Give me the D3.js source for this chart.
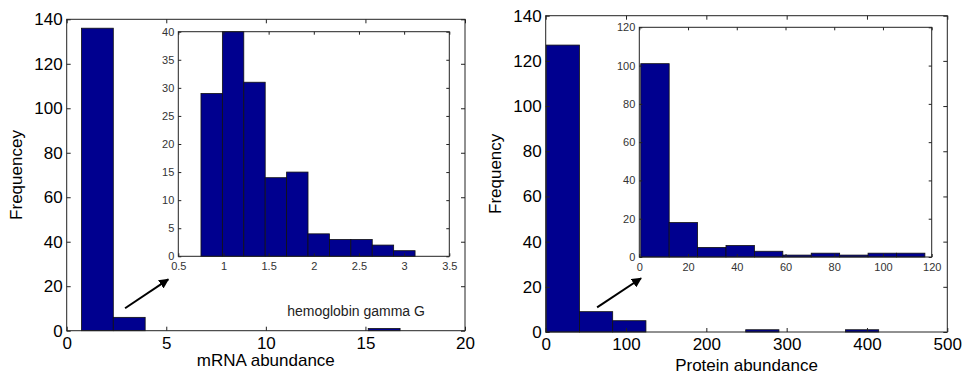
<!DOCTYPE html>
<html>
<head>
<meta charset="utf-8">
<script src="https://cdn.jsdelivr.net/npm/d3@7"></script>
<style>
  html, body { margin: 0; padding: 0; background: #fff; }
  svg { display: block; font-family: "Liberation Sans", Arial, Helvetica, sans-serif; }
</style>
</head>
<body>
<svg id="chart" width="968" height="379"></svg>
<script>
// ---- mRNA abundance histogram (10 bins) ----
const mrnaBinStart = 0.74;
const mrnaBinWidth = 1.6;
const mrnaCounts = [136, 6, 0, 0, 0, 0, 0, 0, 0, 1];
const mrnaXTicks = [0, 5, 10, 15, 20];
const mrnaYTicks = [0, 20, 40, 60, 80, 100, 120, 140];

// zoomed-in view of the bulk of mRNA values (outlier excluded)
const mrnaInsetBinStart = 0.751;
const mrnaInsetBinWidth = 0.237;
const mrnaInsetCounts = [29, 40, 31, 14, 15, 4, 3, 3, 2, 1];
const mrnaInsetXTicks = [0.5, 1, 1.5, 2, 2.5, 3, 3.5];
const mrnaInsetYTicks = [0, 5, 10, 15, 20, 25, 30, 35, 40];

// ---- protein abundance histogram (10 bins) ----
const protBinStart = 0.6;
const protBinWidth = 41.4;
const protCounts = [127, 9, 5, 0, 0, 0, 1, 0, 0, 1];
const protXTicks = [0, 100, 200, 300, 400, 500];
const protYTicks = [0, 20, 40, 60, 80, 100, 120, 140];

const protInsetBinStart = 0.6;
const protInsetBinWidth = 11.66;
const protInsetCounts = [101, 18, 5, 6, 3, 1, 2, 1, 2, 2];
const protInsetXTicks = [0, 20, 40, 60, 80, 100, 120];
const protInsetYTicks = [0, 20, 40, 60, 80, 100, 120];

// annotations (data coordinates of the main axes)
const mrnaArrow = { from: [2.93, 10.1], to: [5.1, 23.1] };
const mrnaNote = { text: "hemoglobin gamma G", x: 11.07, y: 6.6 };
const protArrow = { from: [64, 10.9], to: [118.7, 23.8] };

const BAR_FILL = "#00008f";
const svg = d3.select("#chart");

svg.append("defs").append("marker")
  .attr("id", "arrowhead")
  .attr("viewBox", "0 0 10 10")
  .attr("refX", 9).attr("refY", 5)
  .attr("markerWidth", 5).attr("markerHeight", 5)
  .attr("orient", "auto")
  .append("path").attr("d", "M0,0 L10,5 L0,10 z").attr("fill", "#000");

function bins(start, width, counts) {
  return counts.map((c, i) => ({ x0: start + i * width, x1: start + (i + 1) * width, n: c }));
}

// draws a boxed histogram panel with inward ticks on all four sides
function panel(g, o) {
  const x = d3.scaleLinear().domain(o.xDomain).range([o.left, o.right]);
  const y = d3.scaleLinear().domain(o.yDomain).range([o.bottom, o.top]);
  const w = o.right - o.left, h = o.bottom - o.top;

  if (o.background) {
    g.append("rect").attr("x", o.left).attr("y", o.top).attr("width", w).attr("height", h)
      .attr("fill", "#fff");
  }

  g.append("g").selectAll("rect")
    .data(bins(o.binStart, o.binWidth, o.counts).filter(d => d.n > 0))
    .join("rect")
    .attr("x", d => x(d.x0))
    .attr("width", d => x(d.x1) - x(d.x0))
    .attr("y", d => y(d.n))
    .attr("height", d => y(0) - y(d.n))
    .attr("fill", BAR_FILL)
    .attr("stroke", "#111")
    .attr("stroke-width", 0.8);

  const tk = o.tickLen;
  const bottomAxis = g.append("g").attr("transform", `translate(0,${o.bottom})`)
    .call(d3.axisBottom(x).tickValues(o.xTicks).tickSize(-tk).tickPadding(o.xPad).tickFormat(d3.format("")));
  const leftAxis = g.append("g").attr("transform", `translate(${o.left},0)`)
    .call(d3.axisLeft(y).tickValues(o.yTicks).tickSize(-tk).tickPadding(o.yPad).tickFormat(d3.format("")));
  g.append("g").attr("transform", `translate(0,${o.top})`)
    .call(d3.axisTop(x).tickValues(o.xTicks).tickSize(-tk).tickFormat(""));
  g.append("g").attr("transform", `translate(${o.right},0)`)
    .call(d3.axisRight(y).tickValues(o.yTicks).tickSize(-tk).tickFormat(""));

  g.selectAll(".domain").remove();
  g.selectAll(".tick line").attr("stroke", "#222");
  [bottomAxis, leftAxis].forEach(a => a.selectAll("text")
    .attr("font-size", o.fontSize).attr("fill", o.textColor)
    .attr("font-family", "'Liberation Sans', Arial, sans-serif"));

  g.append("rect").attr("x", o.left).attr("y", o.top).attr("width", w).attr("height", h)
    .attr("fill", "none").attr("stroke", "#222").attr("stroke-width", 1);

  return { x, y };
}

function arrow(g, s, a) {
  g.append("line")
    .attr("x1", s.x(a.from[0])).attr("y1", s.y(a.from[1]))
    .attr("x2", s.x(a.to[0])).attr("y2", s.y(a.to[1]))
    .attr("stroke", "#000").attr("stroke-width", 2)
    .attr("marker-end", "url(#arrowhead)");
}

// ---------- left: mRNA ----------
const gL = svg.append("g");
const mainL = panel(gL, {
  left: 66.7, right: 465, top: 19.3, bottom: 330.7,
  xDomain: [0, 20], yDomain: [0, 140],
  binStart: mrnaBinStart, binWidth: mrnaBinWidth, counts: mrnaCounts,
  xTicks: mrnaXTicks, yTicks: mrnaYTicks,
  tickLen: 4, xPad: 6, yPad: 4, fontSize: 17, textColor: "#000"
});
gL.append("text").attr("x", mainL.x(mrnaNote.x)).attr("y", mainL.y(mrnaNote.y))
  .attr("font-size", 14).attr("fill", "#222").text(mrnaNote.text);
arrow(gL, mainL, mrnaArrow);
panel(gL.append("g"), {
  left: 178.3, right: 449.3, top: 31.7, bottom: 256.3,
  xDomain: [0.5, 3.5], yDomain: [0, 40], background: true,
  binStart: mrnaInsetBinStart, binWidth: mrnaInsetBinWidth, counts: mrnaInsetCounts,
  xTicks: mrnaInsetXTicks, yTicks: mrnaInsetYTicks,
  tickLen: 3, xPad: 6, yPad: 4, fontSize: 11, textColor: "#333"
});
gL.append("text")
  .attr("transform", `translate(22,${(19.3 + 330.7) / 2}) rotate(-90)`)
  .attr("text-anchor", "middle").attr("font-size", 17).text("Frequencey");
gL.append("text").attr("x", (66.7 + 465) / 2).attr("y", 366)
  .attr("text-anchor", "middle").attr("font-size", 17).text("mRNA abundance");

// ---------- right: protein ----------
const gR = svg.append("g");
const mainR = panel(gR, {
  left: 545.7, right: 947.3, top: 15.7, bottom: 332,
  xDomain: [0, 500], yDomain: [0, 140],
  binStart: protBinStart, binWidth: protBinWidth, counts: protCounts,
  xTicks: protXTicks, yTicks: protYTicks,
  tickLen: 4, xPad: 6, yPad: 4, fontSize: 17, textColor: "#000"
});
arrow(gR, mainR, protArrow);
panel(gR.append("g"), {
  left: 639.3, right: 931.7, top: 27.3, bottom: 257,
  xDomain: [0, 120], yDomain: [0, 120], background: true,
  binStart: protInsetBinStart, binWidth: protInsetBinWidth, counts: protInsetCounts,
  xTicks: protInsetXTicks, yTicks: protInsetYTicks,
  tickLen: 3, xPad: 6, yPad: 4, fontSize: 11, textColor: "#333"
});
gR.append("text")
  .attr("transform", `translate(500.5,${(15.7 + 332) / 2}) rotate(-90)`)
  .attr("text-anchor", "middle").attr("font-size", 17).text("Frequency");
gR.append("text").attr("x", (545.7 + 947.3) / 2).attr("y", 371)
  .attr("text-anchor", "middle").attr("font-size", 17).text("Protein abundance");
</script>
</body>
</html>
